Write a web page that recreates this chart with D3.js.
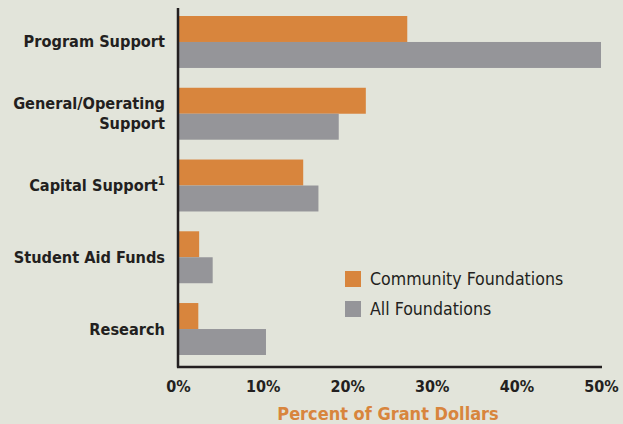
<!DOCTYPE html>
<html><head><meta charset="utf-8">
<script src="https://cdn.jsdelivr.net/npm/d3@7"></script>
<style>
html,body{margin:0;padding:0;background:#e2e4da;}
svg{display:block;}
text{font-family:"DejaVu Sans Condensed","DejaVu Sans",sans-serif;font-stretch:condensed;}
</style></head><body>
<svg id="c" width="623" height="424"></svg>
<script>
const categories = ["Program Support","General/Operating Support","Capital Support","Student Aid Funds","Research"];
const categoryLines = [["Program Support"],["General/Operating","Support"],["Capital Support"],["Student Aid Funds"],["Research"]];
const community = [27.1, 22.2, 14.8, 2.5, 2.4];
const allFound = [50.0, 19.0, 16.6, 4.1, 10.4];
const seriesNames = ["Community Foundations","All Foundations"];
const tickValues = [0,10,20,30,40,50];

const svg = d3.select("#c");
const x = d3.scaleLinear().domain([0,50]).range([178,601]);
const y = d3.scaleBand().domain(categories).range([16,355]).paddingInner(0.276).paddingOuter(0);
const sub = d3.scaleBand().domain(seriesNames).range([0,y.bandwidth()]);
const colors = {"Community Foundations":"#d8853d","All Foundations":"#959599"};

const g = svg.append("g");
categories.forEach((c,i)=>{
  const vals = [community[i], allFound[i]];
  seriesNames.forEach((s,j)=>{
    g.append("rect").attr("x",x(0)).attr("y",y(c)+sub(s))
     .attr("width",x(vals[j])-x(0)).attr("height",sub.bandwidth()).attr("fill",colors[s]);
  });
});

svg.append("line").attr("x1",x(0)).attr("x2",x(0)).attr("y1",8).attr("y2",367.5).attr("stroke","#231f20").attr("stroke-width",2.5);
svg.append("line").attr("x1",x(0)-1).attr("x2",602).attr("y1",367).attr("y2",367).attr("stroke","#231f20").attr("stroke-width",2.5);

const xa = svg.append("g").attr("transform","translate(0,367)").call(d3.axisBottom(x).tickValues(tickValues).tickFormat(d=>d+"%").tickSize(0).tickPadding(14));
xa.select(".domain").remove();
xa.selectAll("text").attr("font-size",16).attr("font-weight","bold").attr("fill","#231f20")
  .style("font-family","'DejaVu Sans Condensed','DejaVu Sans',sans-serif");

categoryLines.forEach((lines,i)=>{
  const cy = y(categories[i]) + y.bandwidth()/2;
  const t = svg.append("text").attr("x",165).attr("text-anchor","end").attr("font-size",16.2).attr("font-weight","bold").attr("fill","#231f20");
  const n = lines.length;
  lines.forEach((l,k)=>{
    t.append("tspan").attr("x",165).attr("y",cy + 5.5 + (k-(n-1)/2)*19.5).text(l);
    if(i===2){ t.append("tspan").attr("dy",-6).attr("font-size",11.5).text("1"); }
  });
});

const lg = svg.append("g");
seriesNames.forEach((s,j)=>{
  const yy = 271 + j*30;
  lg.append("rect").attr("x",345).attr("y",yy).attr("width",16).attr("height",16).attr("fill",colors[s]);
  lg.append("text").attr("x",370).attr("y",yy+14).attr("font-size",17.6).attr("fill","#231f20").text(s);
});

svg.append("text").attr("x",388).attr("y",420).attr("text-anchor","middle").attr("font-size",18).attr("font-weight","bold").attr("fill","#d8853d").text("Percent of Grant Dollars");
</script>
</body></html>
